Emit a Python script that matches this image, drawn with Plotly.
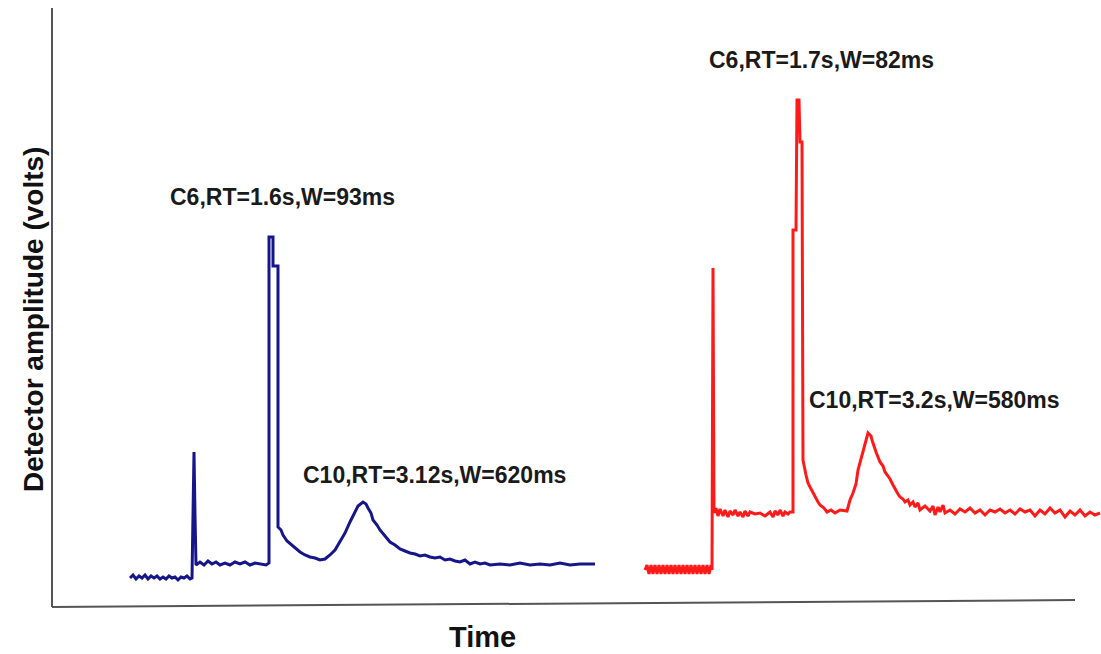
import plotly.graph_objects as go

W, H = 1101, 654

# Blue chromatogram (time in arbitrary units, amplitude in arbitrary units)
blue_t = [130,133,136,139,142,145,148,151,154,157,160,163,166,169,172,175,178,181,184,187,190,192,193,194,195,196,200,204,208,212,216,220,225,230,235,240,245,250,255,260,266,269,269,273,273,278,278,281,283,287,292,296,300,305,310,315,320,325,330,335,340,345,350,355,358,363,366,368,371,373,377,380,385,390,395,400,405,410,415,420,425,430,435,440,445,450,455,460,465,470,475,480,485,490,500,510,520,530,540,550,560,570,580,590,595]
blue_py = [578,575,579,576,578,575,579,576,578,576,579,577,579,576,578,577,580,577,578,576,579,578,515,452,515,565,562,565,561,564,562,565,563,565,562,564,562,565,563,564,565,563,237,237,266,266,527,530,535,541,545,548,552,555,557,558,560,559,555,550,542,533,522,512,506,502,504,508,513,520,525,530,536,542,545,549,551,553,554,556,555,557,558,557,560,559,561,562,560,564,562,564,563,565,564,565,563,565,564,565,563,565,564,564,564]

# Red chromatogram
red_t = [645,647,649,651,653,655,657,659,661,663,665,667,669,671,673,675,677,679,681,683,685,687,689,691,693,695,697,699,701,703,705,707,709,711,712,713,714,716,718,720,723,725,728,730,733,735,738,740,743,745,748,750,755,760,765,770,773,775,778,780,783,785,788,790,793,793,796,797,799,800,802,803,806,808,810,813,815,818,820,824,827,831,835,840,847,850,853,856,858,861,863,866,868,871,872,876,878,880,883,885,888,890,893,895,898,900,903,905,908,910,913,915,918,920,925,930,933,935,938,940,943,945,950,955,960,965,970,975,980,985,990,995,1000,1005,1010,1015,1020,1025,1030,1035,1040,1045,1050,1055,1060,1065,1070,1075,1080,1085,1090,1095,1100]
red_py = [570,565,574,565,574,565,574,565,574,565,574,565,574,565,574,565,574,565,574,565,574,565,574,565,574,565,574,565,574,565,574,565,574,565,570,268,513,508,516,509,516,510,517,511,515,510,516,512,517,511,516,512,514,513,516,512,517,511,515,510,516,512,514,512,512,230,230,100,100,142,142,460,475,483,487,493,497,502,505,508,512,510,513,510,511,500,493,484,470,458,450,440,433,436,440,452,457,462,466,472,476,479,485,489,494,497,499,502,500,505,502,507,503,510,506,511,506,515,507,512,505,513,510,514,509,512,508,513,510,515,510,512,509,513,510,514,509,512,510,516,510,514,508,513,510,517,511,515,510,516,512,515,513]

blue_v = [H - p for p in blue_py]
red_v = [H - p for p in red_py]

labels = ["C6,RT=1.6s,W=93ms", "C10,RT=3.12s,W=620ms", "C6,RT=1.7s,W=82ms", "C10,RT=3.2s,W=580ms"]
label_t = [282, 434, 821, 934]
label_v = [H - 197, H - 475, H - 60, H - 400]

fig = go.Figure()
fig.add_trace(go.Scatter(x=blue_t, y=blue_v, mode="lines",
                         line=dict(color="#16168a", width=3), showlegend=False))
fig.add_trace(go.Scatter(x=red_t, y=red_v, mode="lines",
                         line=dict(color="#ff1a1a", width=3), showlegend=False))

font = dict(family="Liberation Sans, Arial, sans-serif", size=23, color="#1a1a1a", weight="bold")
for s, tx, vy in zip(labels, label_t, label_v):
    fig.add_annotation(x=tx, y=vy, text=s, showarrow=False, font=font,
                       xanchor="center", yanchor="middle")

# axis titles
fig.add_annotation(x=482, y=H - 637, text="Time", showarrow=False,
                   font=dict(family="Liberation Sans, Arial, sans-serif", size=29, color="#111", weight="bold"))
fig.add_annotation(x=33, y=H - 320, text="Detector amplitude (volts)", showarrow=False, textangle=-90,
                   font=dict(family="Liberation Sans, Arial, sans-serif", size=28, color="#111", weight="bold"))

# axis lines
fig.add_shape(type="line", x0=52, y0=H - 8, x1=52, y1=H - 607, line=dict(color="#555", width=2))
fig.add_shape(type="line", x0=52, y0=H - 607, x1=1075, y1=H - 600, line=dict(color="#555", width=2))

fig.update_layout(width=W, height=H, margin=dict(l=0, r=0, t=0, b=0),
                  paper_bgcolor="white", plot_bgcolor="white")
fig.update_xaxes(range=[0, W], visible=False, fixedrange=True)
fig.update_yaxes(range=[0, H], visible=False, fixedrange=True)

fig.write_html("out.html")
